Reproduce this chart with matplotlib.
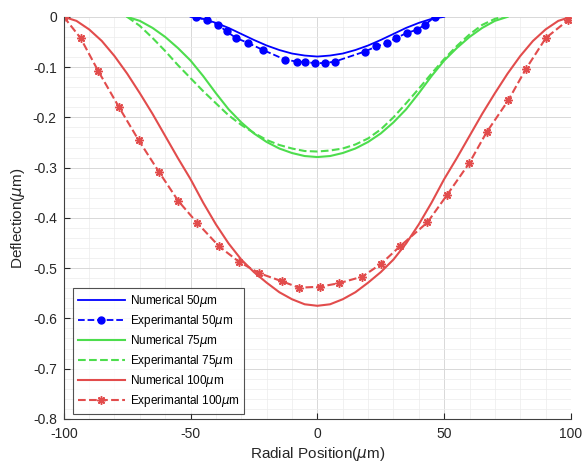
import numpy as np
import matplotlib
matplotlib.use("Agg")
import matplotlib.pyplot as plt
from matplotlib.ticker import MultipleLocator

plt.rcParams['font.family'] = ['Liberation Sans', 'DejaVu Sans']
plt.rcParams['axes.unicode_minus'] = False

# Numerical 100um (red solid)
x_num100 = [-100, -95, -90, -85, -80, -75, -70, -65, -60, -55, -50, -45, -40, -35, -30, -25, -20, -15, -10, -5, 0,
            5, 10, 15, 20, 25, 30, 35, 40, 45, 50, 55, 60, 65, 70, 75, 80, 85, 90, 95, 100]
y_num100 = [0, -0.008, -0.025, -0.048, -0.078, -0.113, -0.152, -0.193, -0.237, -0.281, -0.323, -0.37, -0.413,
            -0.451, -0.483, -0.508, -0.529, -0.548, -0.562, -0.572, -0.575,
            -0.572, -0.562, -0.548, -0.529, -0.508, -0.483, -0.451, -0.413, -0.37, -0.323, -0.281, -0.237,
            -0.193, -0.152, -0.113, -0.078, -0.048, -0.025, -0.008, 0]

# Experimental 100um (red dashed, markers)
x_exp100 = [-100, -93.4, -86.5, -78.2, -70.4, -62.4, -54.9, -47.4, -38.7, -31, -23, -14.1, -7.2, 1, 8.6, 17.7,
            25, 32.5, 43.4, 51.2, 59.9, 66.7, 75.3, 82.2, 90.1, 99]
y_exp100 = [0, -0.042, -0.107, -0.18, -0.246, -0.309, -0.366, -0.41, -0.457, -0.487, -0.51, -0.526, -0.539,
            -0.537, -0.53, -0.517, -0.492, -0.457, -0.409, -0.354, -0.291, -0.23, -0.166, -0.104, -0.042, -0.006]

# Numerical 75um (green solid)
x_num75 = [-75, -70, -65, -60, -55, -50, -45, -40, -35, -30, -25, -20, -15, -10, -5, 0,
           5, 10, 15, 20, 25, 30, 35, 40, 45, 50, 55, 60, 65, 70, 75]
y_num75 = [0, -0.008, -0.022, -0.04, -0.062, -0.087, -0.118, -0.152, -0.184, -0.21, -0.232, -0.249, -0.262,
           -0.271, -0.277, -0.279, -0.277, -0.271, -0.262, -0.249, -0.232, -0.21, -0.184, -0.152, -0.118,
           -0.087, -0.062, -0.04, -0.022, -0.008, 0]

# Experimental 75um (green dashed)
x_exp75 = [-75, -70, -65, -60, -55, -50, -45, -40, -35, -30, -25, -20, -15, -10, -5, 0,
           5, 10, 15, 20, 25, 30, 35, 40, 45, 50, 55, 60, 65, 70, 73]
y_exp75 = [0, -0.018, -0.042, -0.068, -0.096, -0.122, -0.148, -0.172, -0.196, -0.215, -0.231, -0.245, -0.255,
           -0.262, -0.267, -0.268, -0.266, -0.262, -0.254, -0.242, -0.224, -0.2, -0.172, -0.143, -0.113,
           -0.084, -0.058, -0.035, -0.016, -0.004, 0]

# Numerical 50um (blue solid)
x_num50 = [-50, -45, -40, -35, -30, -25, -20, -15, -10, -5, 0, 5, 10, 15, 20, 25, 30, 35, 40, 45, 50]
y_num50 = [0, -0.004, -0.012, -0.022, -0.034, -0.046, -0.057, -0.066, -0.073, -0.077, -0.079,
           -0.077, -0.073, -0.066, -0.057, -0.046, -0.034, -0.022, -0.012, -0.004, 0]

# Experimental 50um (blue dashed, filled circles)
x_exp50 = [-47.7, -43.7, -39.1, -35.8, -32.1, -27.3, -21.4, -12.8, -8.2, -4.9, -1, 3, 6.9,
           18.7, 23.3, 27.3, 31.2, 35.2, 39.1, 42.4, 46.3]
y_exp50 = [0, -0.007, -0.016, -0.029, -0.042, -0.052, -0.066, -0.085, -0.089, -0.09, -0.092, -0.092, -0.089,
           -0.069, -0.059, -0.052, -0.042, -0.032, -0.026, -0.016, 0]

blue = '#0000ff'
green = '#4ddd4d'
red = '#e24c4c'

fig = plt.figure(figsize=(5.85, 4.68), dpi=100)
ax = fig.add_axes([0.109, 0.105, 0.867, 0.859])

ax.plot(x_num50, y_num50, '-', color=blue, lw=1.3, label='Numerical 50$\\mu$m')
ax.plot(x_exp50, y_exp50, '--', color=blue, lw=1.3, marker='o', ms=5, label='Experimantal 50$\\mu$m')
ax.plot(x_num75, y_num75, '-', color=green, lw=1.5, label='Numerical 75$\\mu$m')
ax.plot(x_exp75, y_exp75, '--', color=green, lw=1.5, label='Experimantal 75$\\mu$m')
ax.plot(x_num100, y_num100, '-', color=red, lw=1.5, label='Numerical 100$\\mu$m')
ax.plot(x_exp100, y_exp100, '--', color=red, lw=1.5, marker=(8, 2, 0), ms=6, mew=1.1,
        label='Experimantal 100$\\mu$m')

ax.set_xlim(-100, 100)
ax.set_ylim(-0.8, 0)
ax.xaxis.set_major_locator(MultipleLocator(50))
ax.xaxis.set_minor_locator(MultipleLocator(10))
ax.yaxis.set_minor_locator(MultipleLocator(0.02))
ax.set_yticks(np.arange(-0.8, 0.01, 0.1))
ax.set_yticklabels(['-0.8', '-0.7', '-0.6', '-0.5', '-0.4', '-0.3', '-0.2', '-0.1', '0'])

ax.grid(which='major', color='#d8d8d8', lw=0.7)
ax.grid(which='minor', color='#ececec', lw=0.5)
ax.set_axisbelow(True)
for side in ['top', 'right']:
    ax.spines[side].set_visible(False)
for side in ['left', 'bottom']:
    ax.spines[side].set_color('#404040')
ax.tick_params(which='both', direction='in', labelsize=10, colors='#262626')
ax.tick_params(which='minor', length=0)
ax.tick_params(which='major', length=4)
ax.tick_params(axis='x', pad=6)
ax.tick_params(axis='y', pad=5)

ax.set_xlabel('Radial Position($\\mu$m)', fontsize=11, color='#262626', labelpad=3)
ax.set_ylabel('Deflection($\\mu$m)', fontsize=11, color='#262626')

leg = ax.legend(loc='lower left', bbox_to_anchor=(0.018, 0.012), fontsize=8.5, handlelength=4,
                frameon=True, fancybox=False, edgecolor='#262626', borderaxespad=0,
                labelspacing=0.35, handletextpad=0.4, borderpad=0.4)
leg.get_frame().set_linewidth(0.8)

fig.savefig('out.png', dpi=100)
